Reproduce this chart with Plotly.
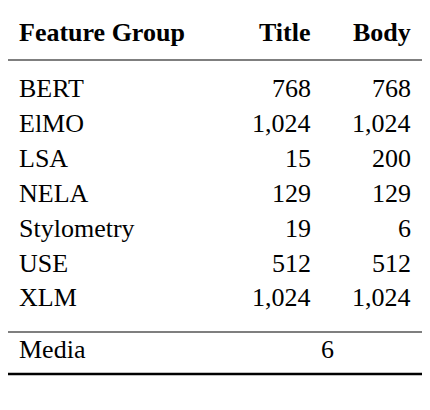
import plotly.graph_objects as go

groups = ["BERT", "ElMO", "LSA", "NELA", "Stylometry", "USE", "XLM"]
title = ["768", "1,024", "15", "129", "19", "512", "1,024"]
body = ["768", "1,024", "200", "129", "6", "512", "1,024"]
headers = ["Feature Group", "Title", "Body"]
media_label, media_value = "Media", "6"
caption = "Table 2: Summary of the features."

F = "'Liberation Serif', 'Times New Roman', serif"
fig = go.Figure()
fig.update_layout(width=430, height=410, margin=dict(l=0, r=0, t=0, b=0),
                  plot_bgcolor="white", paper_bgcolor="white", showlegend=False,
                  xaxis=dict(range=[8, 438], visible=False, fixedrange=True),
                  yaxis=dict(range=[418, 8], visible=False, fixedrange=True))
ann = []
def t(x, y, s, anchor, bold=False, color="black"):
    ann.append(dict(x=x, y=y, xref="x", yref="y", text=f"<b>{s}</b>" if bold else s,
                    showarrow=False, xanchor=anchor, yanchor="middle",
                    font=dict(family=F, size=26, color=color)))
t(17, 32, headers[0], "left", True)
t(313, 32, headers[1], "right", True)
t(413, 32, headers[2], "right", True)
ys = [88, 123, 158, 193, 228, 263, 297]
for y, g, a, b in zip(ys, groups, title, body):
    t(17, y, g, "left"); t(313, y, a, "right"); t(413, y, b, "right")
t(17, 349, media_label, "left"); t(327, 349, media_value, "center")
t(5, 420, caption, "left", color="#222")
fig.update_layout(annotations=ann)
shapes = []
for y, w in [(3, 2.5), (60, 1.2), (332, 1.2), (374, 2.5)]:
    shapes.append(dict(type="line", x0=5, x1=425, y0=y, y1=y, xref="x", yref="y",
                       line=dict(color="black", width=w)))
fig.update_layout(shapes=shapes)
fig.write_html("out.html")
